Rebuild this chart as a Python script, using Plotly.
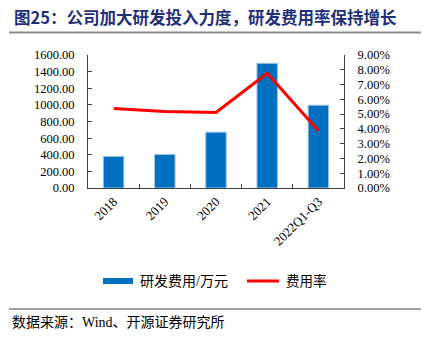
import plotly.graph_objects as go

# R&D spending (10k CNY) and R&D expense ratio by period
periods = ["2018", "2019", "2020", "2021", "2022Q1-Q3"]
rd_spend = [380, 404, 672, 1500, 996]
rd_ratio = [0.0538, 0.0518, 0.0511, 0.0776, 0.0387]

W, H = 430, 338
L, R, T, B = 88, 86, 55, 150
PW, PH = W - L - R, H - T - B


def px(x):
    return (x - L) / PW


def py(y):
    return (H - B - y) / PH


serif = "Liberation Serif, Times New Roman, Noto Sans CJK SC"
cjk = "Liberation Serif, Noto Sans CJK SC"
axis_col = "#404040"

fig = go.Figure()
fig.add_trace(go.Bar(
    x=periods, y=rd_spend, name="研发费用/万元",
    marker=dict(color="#0070C0", line=dict(color="#9DC3E6", width=1)),
    width=0.4, showlegend=False,
))
fig.add_trace(go.Scatter(
    x=periods, y=rd_ratio, name="费用率", yaxis="y2", mode="lines",
    line=dict(color="#FF0000", width=3), showlegend=False,
))

fig.update_layout(
    width=W, height=H,
    margin=dict(l=L, r=R, t=T, b=B),
    paper_bgcolor="white", plot_bgcolor="white",
    font=dict(family=serif, size=13, color="black"),
    bargap=0.6,
    xaxis=dict(
        type="category", showline=True, linecolor=axis_col, linewidth=1,
        ticks="inside", tickson="boundaries", ticklen=4, tickcolor=axis_col,
        tickangle=-45, tickfont=dict(size=13), showgrid=False,
        range=[-0.5, 4.5],
    ),
    yaxis=dict(
        range=[0, 1600], dtick=200, tickformat=".2f",
        showline=True, linecolor=axis_col, linewidth=1,
        ticks="inside", ticklen=4, tickcolor=axis_col,
        showgrid=False, zeroline=False, ticklabelstandoff=10,
        tickfont=dict(size=12.5),
    ),
    yaxis2=dict(
        range=[0, 0.09], dtick=0.01, tickformat=".2%",
        overlaying="y", side="right",
        showline=True, linecolor=axis_col, linewidth=1,
        ticks="inside", ticklen=4, tickcolor=axis_col,
        showgrid=False, zeroline=False, ticklabelstandoff=10,
        tickfont=dict(size=12.5),
    ),
)

shapes = [
    # rule under the heading
    dict(type="line", xref="paper", yref="paper",
         x0=px(9), x1=px(421), y0=py(32.5), y1=py(32.5),
         line=dict(color="#8C8C8C", width=2)),
    # legend swatches
    dict(type="rect", xref="paper", yref="paper",
         x0=px(103), x1=px(133), y0=py(284), y1=py(278),
         fillcolor="#0070C0", line=dict(width=0)),
    dict(type="line", xref="paper", yref="paper",
         x0=px(247), x1=px(279), y0=py(281), y1=py(281),
         line=dict(color="#FF0000", width=3)),
    # rule above the source line
    dict(type="line", xref="paper", yref="paper",
         x0=px(9), x1=px(421), y0=py(309), y1=py(309),
         line=dict(color="#404040", width=1)),
]
fig.update_layout(shapes=shapes)

annotations = [
    dict(text="<b>图25：公司加大研发投入力度，研发费用率保持增长</b>",
         xref="paper", yref="paper", x=px(12), y=py(17),
         xanchor="left", yanchor="middle", showarrow=False,
         font=dict(family="Noto Sans CJK SC", size=16.5, color="#1F2F7A")),
    dict(text="研发费用/万元", xref="paper", yref="paper",
         x=px(138), y=py(281), xanchor="left", yanchor="middle",
         showarrow=False, font=dict(family=cjk, size=14)),
    dict(text="费用率", xref="paper", yref="paper",
         x=px(284), y=py(281), xanchor="left", yanchor="middle",
         showarrow=False, font=dict(family=cjk, size=13.5)),
    dict(text="数据来源：Wind、开源证券研究所", xref="paper", yref="paper",
         x=px(10), y=py(322), xanchor="left", yanchor="middle",
         showarrow=False, font=dict(family=cjk, size=14)),
]
fig.update_layout(annotations=annotations)

fig.write_html("out.html")
